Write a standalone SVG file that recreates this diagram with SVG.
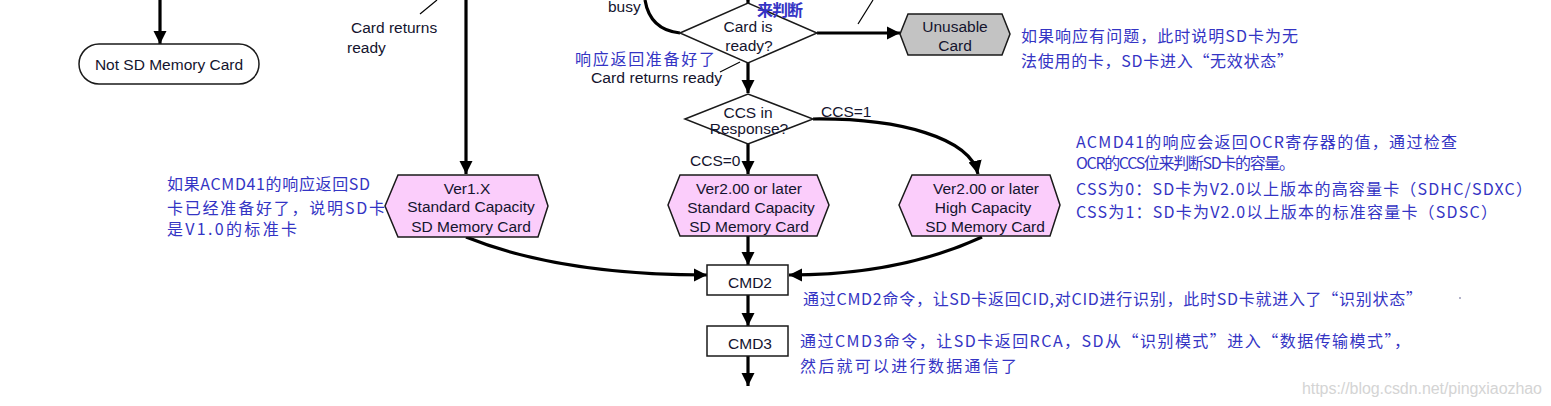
<svg xmlns="http://www.w3.org/2000/svg" width="1551" height="406" viewBox="0 0 1551 406">
<style>
.en{font-family:"Liberation Sans",Arial,sans-serif;font-size:15.5px;fill:#14142e}
.cn{font-family:"Noto Sans CJK SC",sans-serif;font-size:16px;fill:#3434c4}
.ctr{text-anchor:middle}
.node{stroke:#1a1a1a;stroke-width:1.5}
.hex{fill:#fbcdfb}
.conn{fill:none;stroke:#000;stroke-width:3.2}
.lead{fill:none;stroke:#000;stroke-width:1.2}
</style>
<defs>
<marker id="ah" viewBox="0 0 10 10" refX="10" refY="5" markerWidth="4.2" markerHeight="4.2" markerUnits="strokeWidth" orient="auto">
<path d="M0,0 L10,5 L0,10 z" fill="#000"/>
</marker>
</defs>
<rect width="1551" height="406" fill="#fff"/>

<g id="connectors">
<path class="conn" d="M160,0 L160,44" marker-end="url(#ah)"/>
<path class="conn" d="M466,0 L466,174" marker-end="url(#ah)"/>
<path class="conn" d="M748,-12 L748,3" marker-end="url(#ah)"/>
<path class="conn" d="M645,0 Q650,30 680,33"/>
<path class="conn" d="M817,33 L900,33" marker-end="url(#ah)"/>
<path class="conn" d="M748,63 L748,93" marker-end="url(#ah)"/>
<path class="conn" d="M748,144 L748,174" marker-end="url(#ah)"/>
<path class="conn" d="M813,119 C900,118 970,138 978,174" marker-end="url(#ah)"/>
<path class="conn" d="M748,236 L748,265" marker-end="url(#ah)"/>
<path class="conn" d="M466,237 Q560,275 707,275" marker-end="url(#ah)"/>
<path class="conn" d="M982,237 Q900,275 789,275" marker-end="url(#ah)"/>
<path class="conn" d="M748,295 L748,326" marker-end="url(#ah)"/>
<path class="conn" d="M748,356 L748,386" marker-end="url(#ah)"/>
<path class="lead" d="M437,0 L420,14"/>
<path class="lead" d="M873,0 L858,24"/>
<path class="lead" d="M740,62 L720,72"/>
</g>

<g id="not-sd">
<rect class="node" x="79" y="44" width="180" height="40" rx="20" ry="20" fill="#fff"/>
<text class="en ctr" x="169" y="64" dominant-baseline="central">Not SD Memory Card</text>
</g>

<g id="card-ready">
<polygon class="node" points="680,33 748,3 817,33 748,63" fill="#fff"/>
<text class="en ctr" x="748" y="26" dominant-baseline="central">Card is</text>
<text class="en ctr" x="749" y="45" dominant-baseline="central">ready?</text>
</g>

<g id="unusable">
<polygon class="node" points="900,34 908,14 1002,14 1010,34 1002,55 908,55" fill="#c3c3c3"/>
<text class="en ctr" x="955" y="26" dominant-baseline="central">Unusable</text>
<text class="en ctr" x="955" y="45" dominant-baseline="central">Card</text>
</g>

<g id="ccs">
<polygon class="node" points="685,119 748,94 813,119 748,144" fill="#fff"/>
<text class="en ctr" x="748" y="112" dominant-baseline="central">CCS in</text>
<text class="en ctr" x="749" y="128" dominant-baseline="central">Response?</text>
</g>

<g id="ver1">
<polygon class="node hex" points="385,206 398,175 538,175 548,206 538,237 398,237"/>
<text class="en ctr" x="467" y="188" dominant-baseline="central">Ver1.X</text>
<text class="en ctr" x="471" y="206" dominant-baseline="central">Standard Capacity</text>
<text class="en ctr" x="471" y="226" dominant-baseline="central">SD Memory Card</text>
</g>

<g id="ver2-std">
<polygon class="node hex" points="668,205 680,175 817,175 829,205 817,236 680,236"/>
<text class="en ctr" x="749" y="188" dominant-baseline="central">Ver2.00 or later</text>
<text class="en ctr" x="751" y="207" dominant-baseline="central">Standard Capacity</text>
<text class="en ctr" x="749" y="226" dominant-baseline="central">SD Memory Card</text>
</g>

<g id="ver2-high">
<polygon class="node hex" points="899,205 912,175 1050,175 1060,205 1050,236 912,236"/>
<text class="en ctr" x="986" y="188" dominant-baseline="central">Ver2.00 or later</text>
<text class="en ctr" x="983" y="207" dominant-baseline="central">High Capacity</text>
<text class="en ctr" x="985" y="226" dominant-baseline="central">SD Memory Card</text>
</g>

<g id="cmd2">
<rect class="node" x="707" y="265" width="81" height="30" fill="#fff"/>
<text class="en ctr" x="750" y="282" dominant-baseline="central">CMD2</text>
</g>

<g id="cmd3">
<rect class="node" x="707" y="326" width="81" height="30" fill="#fff"/>
<text class="en ctr" x="750" y="343" dominant-baseline="central">CMD3</text>
</g>

<g id="labels">
<text class="en" x="608" y="6" dominant-baseline="central">busy</text>
<text class="en" x="351" y="27" dominant-baseline="central">Card returns</text>
<text class="en" x="347" y="47" dominant-baseline="central">ready</text>
<text class="en" x="591" y="77" dominant-baseline="central" textLength="131" lengthAdjust="spacingAndGlyphs">Card returns ready</text>
<text class="en" x="821" y="111" dominant-baseline="central">CCS=1</text>
<text class="en" x="690" y="160" dominant-baseline="central">CCS=0</text>
</g>

<g id="notes">
<text class="cn" x="757" y="9" dominant-baseline="central" font-weight="bold" textLength="46">来判断</text>
<text class="cn" x="575" y="58" dominant-baseline="central" font-size="15.5" textLength="140">响应返回准备好了</text>
<text class="cn" x="1021" y="35" dominant-baseline="central" textLength="277">如果响应有问题，此时说明SD卡为无</text>
<text class="cn" x="1021" y="60" dominant-baseline="central" textLength="272">法使用的卡，SD卡进入“无效状态”</text>
<text class="cn" x="167" y="183" dominant-baseline="central" textLength="203">如果ACMD41的响应返回SD</text>
<text class="cn" x="167" y="207" dominant-baseline="central" textLength="218">卡已经准备好了，说明SD卡</text>
<text class="cn" x="167" y="228" dominant-baseline="central" textLength="130">是V1.0的标准卡</text>
<text class="cn" x="1076" y="141" dominant-baseline="central" textLength="381">ACMD41的响应会返回OCR寄存器的值，通过检查</text>
<text class="cn" x="1076" y="162" dominant-baseline="central" textLength="219">OCR的CCS位来判断SD卡的容量。</text>
<text class="cn" x="1076" y="188" dominant-baseline="central" textLength="456">CSS为0：SD卡为V2.0以上版本的高容量卡（SDHC/SDXC）</text>
<text class="cn" x="1076" y="211" dominant-baseline="central" textLength="421">CSS为1：SD卡为V2.0以上版本的标准容量卡（SDSC）</text>
<text class="cn" x="803" y="298" dominant-baseline="central" textLength="619">通过CMD2命令，让SD卡返回CID,对CID进行识别，此时SD卡就进入了“识别状态”</text>
<text class="cn" x="800" y="340" dominant-baseline="central" textLength="610">通过CMD3命令，让SD卡返回RCA，SD从“识别模式”进入“数据传输模式”，</text>
<text class="cn" x="800" y="365" dominant-baseline="central" textLength="217">然后就可以进行数据通信了</text>
<circle cx="1460" cy="298" r="1" fill="#9a9ab8"/>
<text x="1302" y="388" dominant-baseline="central" font-family="Liberation Sans,Arial,sans-serif" font-size="16" fill="#d4d4d4" textLength="240">https://blog.csdn.net/pingxiaozhao</text>
</g>
</svg>
